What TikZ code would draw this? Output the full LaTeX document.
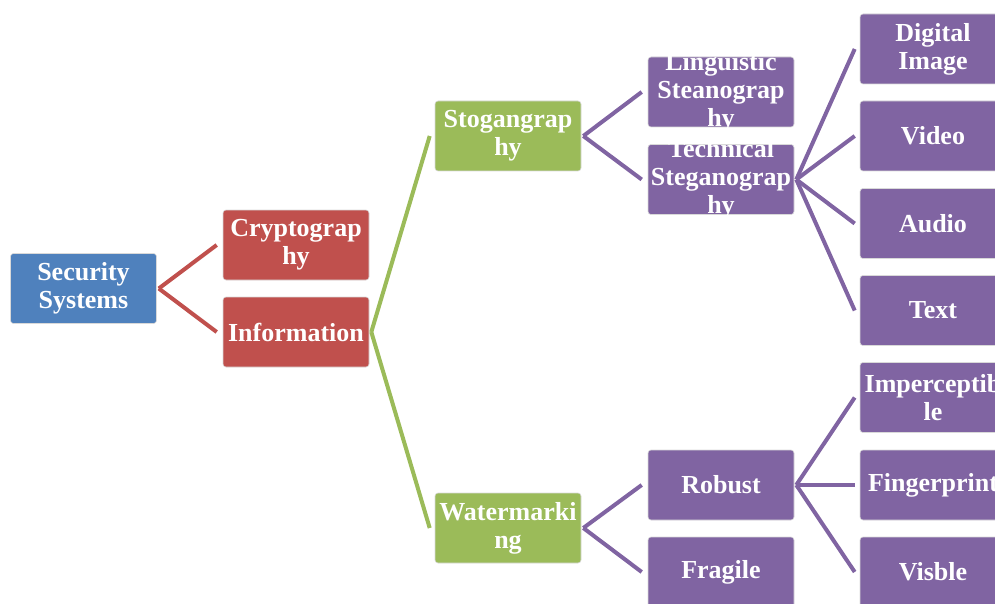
\documentclass[tikz,border=0pt]{standalone}
\usepackage{fontspec}
\setmainfont{Liberation Serif}
\usepackage{tikz}
\usetikzlibrary{positioning, calc}
\definecolor{offblue}{HTML}{4F81BD}
\definecolor{offred}{HTML}{C0504D}
\definecolor{offgreen}{HTML}{9BBB59}
\definecolor{offpurple}{HTML}{8064A2}

\begin{document}
\begin{tikzpicture}[x=1pt, y=-1pt,
    box/.style={rectangle, rounded corners=3pt, draw=white!85!black, line width=0.6pt,
        minimum width=146pt, minimum height=70pt, inner sep=0pt, align=center,
        text=white, font=\fontsize{26}{28}\selectfont\bfseries},
    bluebox/.style={box, fill=offblue},
    redbox/.style={box, fill=offred},
    greenbox/.style={box, fill=offgreen},
    purplebox/.style={box, fill=offpurple},
    tallbox/.style={purplebox, inner ysep=-6pt},
    link/.style={line width=4pt}]
    \useasboundingbox (0,0) rectangle (995,604);
    % level 0 and 1
    \node [bluebox] (sec) at (83.5,288.5) {Security\\Systems};
    \node [redbox] (crypt) at (296,245) {Cryptograp\\hy};
    \node [redbox] (info) at (296,332) {Information};
    % level 2
    \node [greenbox] (stog) at (508,136) {Stogangrap\\hy};
    \node [greenbox] (water) at (508,528) {Watermarki\\ng};
    % level 3
    \node [tallbox] (ling) at (721,92) {Linguistic\\Steanograp\\hy};
    \node [tallbox] (tech) at (721,179.5) {Technical\\Steganograp\\hy};
    \node [purplebox] (robust) at (721,485) {Robust};
    \node [purplebox] (fragile) at (721,572) {Fragile};
    % level 4
    \node [purplebox] (digital) at (933,49) {Digital\\Image};
    \node [purplebox] (video) at (933,136) {Video};
    \node [purplebox] (audio) at (933,223.5) {Audio};
    \node [purplebox] (text) at (933,310.5) {Text};
    \node [purplebox] (imper) at (933,397.5) {Imperceptib\\le};
    \node [purplebox] (finger) at (933,485) {Fingerprint};
    \node [purplebox] (visble) at (933,572) {Visble};
    % connectors
    \foreach \c in {crypt,info} { \draw [link, offred] ([xshift=2pt]sec.east) -- ([xshift=-6pt]\c.west); }
    \foreach \c in {stog,water} { \draw [link, offgreen] ([xshift=2pt]info.east) -- ([xshift=-5pt]\c.west); }
    \foreach \c in {ling,tech} { \draw [link, offpurple] ([xshift=2pt]stog.east) -- ([xshift=-6pt]\c.west); }
    \foreach \c in {robust,fragile} { \draw [link, offpurple] ([xshift=2pt]water.east) -- ([xshift=-6pt]\c.west); }
    \foreach \c in {digital,video,audio,text} { \draw [link, offpurple] ([xshift=2pt]tech.east) -- ([xshift=-5pt]\c.west); }
    \foreach \c in {imper,finger,visble} { \draw [link, offpurple] ([xshift=2pt]robust.east) -- ([xshift=-5pt]\c.west); }
\end{tikzpicture}
\end{document}
